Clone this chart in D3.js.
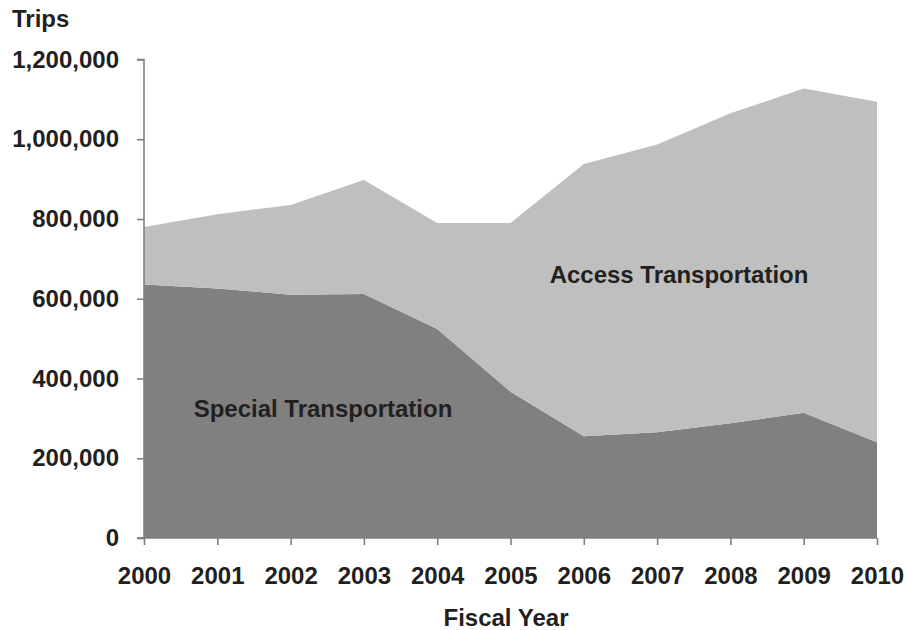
<!DOCTYPE html>
<html>
<head>
<meta charset="utf-8">
<script src="https://cdn.jsdelivr.net/npm/d3@7"></script>
<style>
  html, body { margin: 0; padding: 0; background: #fff; }
  svg text { font-family: "Liberation Sans", Arial, sans-serif; font-weight: bold; fill: #231f20; }
</style>
</head>
<body>
<svg id="chart" width="913" height="630"></svg>
<script>
const years = [2000, 2001, 2002, 2003, 2004, 2005, 2006, 2007, 2008, 2009, 2010];
const special = [636000, 626000, 610000, 612000, 524000, 367000, 255000, 265000, 287500, 314000, 240000];
const access = [144000, 186000, 225000, 286000, 266000, 423000, 683000, 722000, 777500, 813000, 854000];
const yTicks = [0, 200000, 400000, 600000, 800000, 1000000, 1200000];
const seriesNames = ["Special Transportation", "Access Transportation"];

const svg = d3.select("#chart");
const x = d3.scaleLinear().domain([2000, 2010]).range([144, 877]);
const y = d3.scaleLinear().domain([0, 1200000]).range([538, 59.5]);

const rows = years.map((yr, i) => ({ year: yr, special: special[i], access: access[i] }));
const stack = d3.stack().keys(["special", "access"]);
const layers = stack(rows);
const colors = ["#808080", "#bfbfbf"];

const area = d3.area()
  .x(d => x(d.data.year))
  .y0(d => y(d[0]))
  .y1(d => y(d[1]));

svg.append("g").selectAll("path")
  .data(layers)
  .join("path")
  .attr("d", area)
  .attr("fill", (d, i) => colors[i]);

// Y axis
const yAxis = d3.axisLeft(y).tickValues(yTicks).tickSize(7).tickPadding(18)
  .tickFormat(d3.format(","));
const gy = svg.append("g").attr("transform", "translate(144,0)").call(yAxis);
gy.select(".domain").attr("stroke", "#808080").attr("stroke-width", 1.6).attr("d", "M-7,59.5H0V538H-7");
gy.selectAll(".tick line").attr("stroke", "#808080").attr("stroke-width", 1.6);
gy.selectAll(".tick text").style("font-size", "24px").attr("fill", "#231f20");

// X axis
const xAxis = d3.axisBottom(x).tickValues(years).tickSize(7).tickPadding(22)
  .tickFormat(d3.format("d"));
const gx = svg.append("g").attr("transform", "translate(0,538)").call(xAxis);
gx.select(".domain").attr("stroke", "#808080").attr("stroke-width", 1.6).attr("d", "M137,0H877");
gx.selectAll(".tick line").attr("stroke", "#808080").attr("stroke-width", 1.6);
gx.selectAll(".tick text").style("font-size", "24px").attr("fill", "#231f20");

// Titles
svg.append("text").attr("x", 12).attr("y", 27).style("font-size", "24px").text("Trips");
svg.append("text").attr("x", 506).attr("y", 626).attr("text-anchor", "middle").style("font-size", "24px").text("Fiscal Year");

// Series labels
svg.append("text").attr("x", 323).attr("y", 417).attr("text-anchor", "middle").style("font-size", "24px").text(seriesNames[0]);
svg.append("text").attr("x", 679).attr("y", 283).attr("text-anchor", "middle").style("font-size", "24px").text(seriesNames[1]);
</script>
</body>
</html>
